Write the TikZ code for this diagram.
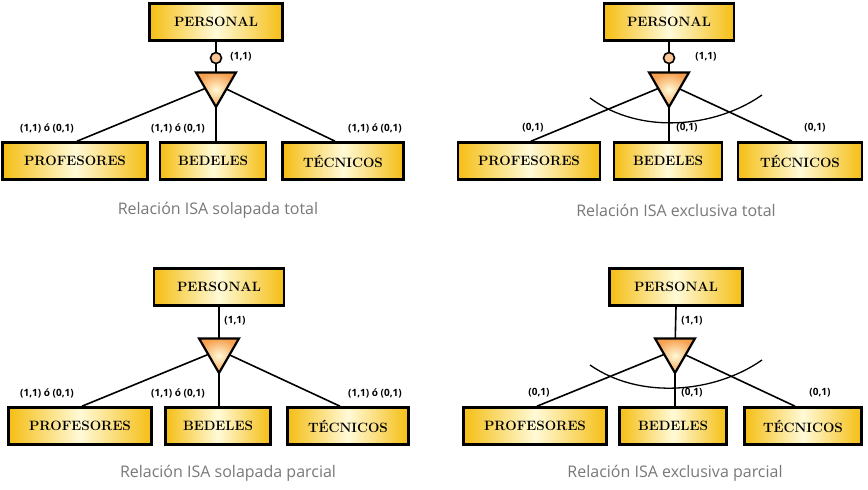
\documentclass[tikz,border=0pt]{standalone}
\usepackage{fontspec}
\setsansfont{Open Sans}
\usetikzlibrary{shapes.geometric,calc}
\definecolor{gold}{RGB}{245,190,20}
\definecolor{cream}{RGB}{255,250,215}
\definecolor{tang}{RGB}{247,160,80}
\definecolor{capgray}{RGB}{120,120,120}
\begin{document}
\begin{tikzpicture}[x=1pt,y=-1pt,
entity/.style={draw,line width=2.6pt,minimum height=37pt,inner sep=0pt,
  left color=gold,right color=gold,middle color=cream,
  font=\fontsize{13.5}{15}\selectfont\bfseries},
isa/.style={draw,line width=2.2pt,regular polygon,regular polygon sides=3,
  shape border rotate=180,minimum width=46pt,inner sep=0pt,
  inner color=cream,outer color=tang},
total/.style={draw,line width=1.6pt,circle,minimum size=11pt,inner sep=0pt,fill=tang!60},
card/.style={font=\sffamily\fontsize{10}{12}\selectfont\bfseries},
caption/.style={font=\sffamily\fontsize{16}{18}\selectfont,text=capgray},
link/.style={line width=1.6pt},
excl/.style={line width=1.3pt}
]
\useasboundingbox (0,0) rectangle (868,490);

% --- solapada total ---
\node (per1) [entity,minimum width=133pt] at (216,22) {PERSONAL};
\node (pro1) [entity,minimum width=145pt] at (75,161) {PROFESORES};
\node (bed1) [entity,minimum width=106pt] at (213,161) {BEDELES};
\node (tec1) [entity,minimum width=121pt] at (343,161) {TÉCNICOS};
\coordinate (c1) at (216,84);
\draw[link] (per1.south) -- (c1);
\draw[link] (c1) -- ($(pro1.north)+(2,0)$);
\draw[link] (c1) -- (bed1.north -| c1);
\draw[link] (c1) -- ($(tec1.north)+(-8,0)$);
\node (isa1) [isa] at (c1) {};
\node (tot1) [total] at (216,58) {};
\node [card] at (241,57) {(1,1)};
\node [card] at (47,128) {(1,1) ó (0,1)};
\node [card] at (178,128) {(1,1) ó (0,1)};
\node [card] at (375,128) {(1,1) ó (0,1)};
\node [caption] at (218,210) {Relación ISA solapada total};

% --- exclusiva total ---
\node (per2) [entity,minimum width=130pt] at (669,22) {PERSONAL};
\node (pro2) [entity,minimum width=142pt] at (529,161) {PROFESORES};
\node (bed2) [entity,minimum width=108pt] at (668,161) {BEDELES};
\node (tec2) [entity,minimum width=124pt] at (800,161) {TÉCNICOS};
\coordinate (c2) at (669,84);
\draw[link] (per2.south) -- (c2);
\draw[link] (c2) -- ($(pro2.north)+(2,0)$);
\draw[link] (c2) -- (bed2.north -| c2);
\draw[link] (c2) -- ($(tec2.north)+(-8,0)$);
\draw[excl] (590,98) .. controls (640,135) and (715,128) .. (762,95);
\node (isa2) [isa] at (c2) {};
\node (tot2) [total] at (669,58) {};
\node [card] at (706,57) {(1,1)};
\node [card] at (533,128) {(0,1)};
\node [card] at (687,128) {(0,1)};
\node [card] at (815,128) {(0,1)};
\node [caption] at (676,210) {Relación ISA exclusiva total};

% --- solapada parcial ---
\node (per3) [entity,minimum width=130pt] at (219,287) {PERSONAL};
\node (pro3) [entity,minimum width=143pt] at (80,426) {PROFESORES};
\node (bed3) [entity,minimum width=105pt] at (218,426) {BEDELES};
\node (tec3) [entity,minimum width=121pt] at (348,426) {TÉCNICOS};
\coordinate (c3) at (219,350);
\draw[link] (per3.south) -- (c3);
\draw[link] (c3) -- ($(pro3.north)+(2,0)$);
\draw[link] (c3) -- (bed3.north -| c3);
\draw[link] (c3) -- ($(tec3.north)+(-8,0)$);
\node (isa3) [isa] at (c3) {};
\node [card] at (235,321) {(1,1)};
\node [card] at (47,393) {(1,1) ó (0,1)};
\node [card] at (178,393) {(1,1) ó (0,1)};
\node [card] at (375,393) {(1,1) ó (0,1)};
\node [caption] at (228,473) {Relación ISA solapada parcial};

% --- exclusiva parcial ---
\node (per4) [entity,minimum width=133pt] at (676,287) {PERSONAL};
\node (pro4) [entity,minimum width=143pt] at (535,426) {PROFESORES};
\node (bed4) [entity,minimum width=107pt] at (673,426) {BEDELES};
\node (tec4) [entity,minimum width=117pt] at (803,426) {TÉCNICOS};
\coordinate (c4) at (675,350);
\draw[link] (per4.south) -- (c4);
\draw[link] (c4) -- ($(pro4.north)+(2,0)$);
\draw[link] (c4) -- (bed4.north -| c4);
\draw[link] (c4) -- ($(tec4.north)+(-8,0)$);
\draw[excl] (590,365) .. controls (640,400) and (715,393) .. (762,360);
\node (isa4) [isa] at (c4) {};
\node [card] at (692,321) {(1,1)};
\node [card] at (539,393) {(0,1)};
\node [card] at (692,393) {(0,1)};
\node [card] at (820,393) {(0,1)};
\node [caption] at (675,473) {Relación ISA exclusiva parcial};
\end{tikzpicture}
\end{document}
